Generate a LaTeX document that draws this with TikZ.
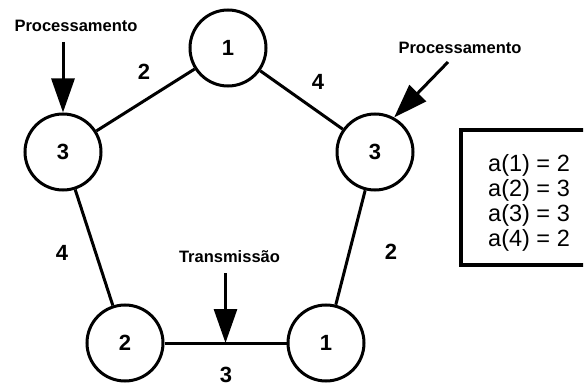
\documentclass[tikz,border=0pt]{standalone}
\usepackage{fontspec}
\setmainfont{Liberation Sans}
\usetikzlibrary{arrows.meta}
\begin{document}
\begin{tikzpicture}[x=1pt,y=-1pt,
  vertex/.style={circle,draw,line width=3pt,minimum size=76pt,inner sep=0pt,
    font=\fontsize{22}{24}\selectfont\bfseries},
  edge/.style={line width=3pt},
  wlabel/.style={font=\fontsize{22}{24}\selectfont\bfseries,inner sep=0pt},
  tlabel/.style={font=\fontsize{16.5}{18}\selectfont\bfseries,inner sep=0pt},
  pointer/.style={line width=3pt,-{Triangle[length=34pt,width=23pt]}},
  legendframe/.style={line width=4.5pt}]
\useasboundingbox (0,0) rectangle (584,385);
\clip (0,0) rectangle (583,385);
% vertices
\node[vertex] (top) at (228,48) {1};
\node[vertex] (lc)  at (63,152) {3};
\node[vertex] (rc)  at (375,152) {3};
\node[vertex] (bl)  at (125,343) {2};
\node[vertex] (br)  at (326,343) {1};
% edges
\draw[edge] (lc) -- (top);
\draw[edge] (top) -- (rc);
\draw[edge] (rc) -- (br);
\draw[edge] (bl) -- coordinate[midway] (mid) (br);
\draw[edge] (lc) -- (bl);
% edge weights
\node[wlabel] (w1) at (144,72) {2};
\node[wlabel] (w2) at (318,82) {4};
\node[wlabel] (w3) at (62,253) {4};
\node[wlabel] (w4) at (391,252) {2};
\node[wlabel] (w5) at (226,374.5) {3};
% annotations
\node[tlabel] (p1) at (76,26) {Processamento};
\node[tlabel] (p2) at (460,48) {Processamento};
\node[tlabel] (t1) at (229.5,257) {Transmissão};
\coordinate (s1) at (63,42);
\coordinate (s2) at (448,62);
\coordinate (s3) at (225.5,273);
\draw[pointer] (s1) -- (lc.north);
\draw[pointer] (s2) -- (rc.61);
\draw[pointer] (s3) -- (mid);
% legend (right side runs past the page edge)
\coordinate (bx1) at (600,130);
\coordinate (bx2) at (461,130);
\coordinate (bx3) at (461,265);
\coordinate (bx4) at (600,265);
\draw[legendframe] (bx1) -- (bx2) -- (bx3) -- (bx4);
\node[anchor=west,inner sep=0pt,align=left,font=\fontsize{23.5}{25}\selectfont] (legend) at (488,203)
  {a(1) = 2\\a(2) = 3\\a(3) = 3\\a(4) = 2};
\end{tikzpicture}
\end{document}
